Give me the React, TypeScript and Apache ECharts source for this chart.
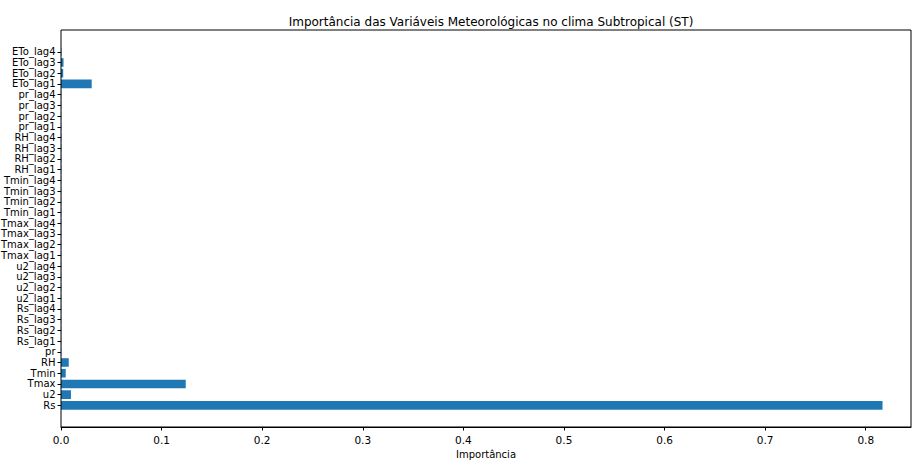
import React, { useEffect, useRef } from "react";
import * as echarts from "echarts";

const categories = [
  "Rs", "u2", "Tmax", "Tmin", "RH", "pr",
  "Rs_lag1", "Rs_lag2", "Rs_lag3", "Rs_lag4",
  "u2_lag1", "u2_lag2", "u2_lag3", "u2_lag4",
  "Tmax_lag1", "Tmax_lag2", "Tmax_lag3", "Tmax_lag4",
  "Tmin_lag1", "Tmin_lag2", "Tmin_lag3", "Tmin_lag4",
  "RH_lag1", "RH_lag2", "RH_lag3", "RH_lag4",
  "pr_lag1", "pr_lag2", "pr_lag3", "pr_lag4",
  "ETo_lag1", "ETo_lag2", "ETo_lag3", "ETo_lag4",
];

const importance = [
  0.8167, 0.0099, 0.124, 0.0047, 0.0077, 0.0003,
  0.0003, 0.0003, 0.0003, 0.0003,
  0.0003, 0.0003, 0.0003, 0.0003,
  0.0003, 0.0003, 0.0003, 0.0003,
  0.0003, 0.0003, 0.0003, 0.0003,
  0.0004, 0.0004, 0.0004, 0.0004,
  0.0003, 0.0003, 0.0003, 0.0003,
  0.0305, 0.0022, 0.0025, 0.0004,
];

const titleText = "Importância das Variáveis Meteorológicas no clima Subtropical (ST)";
const xAxisName = "Importância";

export default function App() {
  const ref = useRef<HTMLDivElement>(null);
  useEffect(() => {
    if (!ref.current) return;
    const chart = echarts.init(ref.current, undefined, { renderer: "svg" });
    const font = "DejaVu Sans";
    chart.setOption({
      animation: false,
      textStyle: { fontFamily: font },
      title: {
        text: titleText,
        left: 486,
        top: 11,
        textAlign: "center",
        textStyle: { fontFamily: font, fontSize: 12, fontWeight: "normal", color: "#000" },
      },
      grid: {
        left: 61,
        right: 1,
        top: 46.4,
        height: 364.3,
        containLabel: false,
        outerBoundsMode: "none",
      },
      xAxis: {
        type: "value",
        min: 0,
        max: 0.845,
        interval: 0.1,
        offset: 16.3,
        splitLine: { show: false },
        axisLine: { show: true, lineStyle: { color: "#000", width: 1 } },
        axisTick: { show: true, length: 3.5, lineStyle: { color: "#000" } },
        axisLabel: {
          color: "#000",
          fontSize: 10.5,
          fontFamily: font,
          margin: 7,
          showMaxLabel: false,
          formatter: (v: number) => v.toFixed(1),
        },
        name: xAxisName,
        nameLocation: "middle",
        nameGap: 22,
        nameTextStyle: { color: "#000", fontSize: 10, fontFamily: font },
      },
      yAxis: {
        type: "category",
        data: categories,
        axisLine: { show: false },
        axisTick: { show: true, alignWithLabel: true, length: 3.5, lineStyle: { color: "#000" } },
        axisLabel: { color: "#000", fontSize: 10, fontFamily: font, margin: 5.5, interval: 0 },
      },
      series: [
        {
          type: "bar",
          data: importance,
          barWidth: "80%",
          itemStyle: { color: "#1f77b4" },
        },
      ],
      graphic: [
        {
          type: "rect",
          shape: { x: 61, y: 30, width: 850, height: 397 },
          style: { fill: "none", stroke: "#000", lineWidth: 1 },
          silent: true,
          z: 10,
        },
      ],
    });
    return () => chart.dispose();
  }, []);
  return <div ref={ref} style={{ width: 912, height: 461, position: "absolute", left: 0, top: 0 }} />;
}
